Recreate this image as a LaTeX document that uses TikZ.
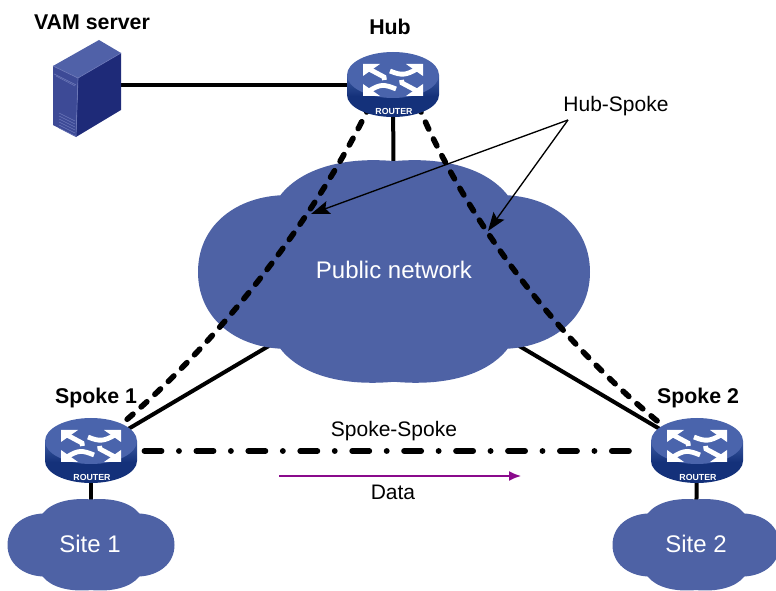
\documentclass[tikz,border=0pt]{standalone}
\usepackage{fontspec}
\setmainfont{Liberation Sans}
\usetikzlibrary{arrows.meta}
\definecolor{cloudblue}{HTML}{4E62A5}
\definecolor{routertop}{HTML}{4A64AC}
\definecolor{routerhi}{HTML}{3C5AA2}
\definecolor{routerlo}{HTML}{14317A}
\definecolor{srvtop}{HTML}{5061A8}
\definecolor{srvright}{HTML}{1E2A78}
\definecolor{srvfront}{HTML}{3D4A96}
\definecolor{srvedge}{HTML}{6C78B8}
\definecolor{datapurple}{HTML}{8A0A8C}
\tikzset{
  x=0.75pt,y=-0.75pt,
  anchorbox/.style={inner sep=0pt,outer sep=0pt},
  routernode/.style={anchorbox,minimum width=69pt,minimum height=48pt,shape=rectangle},
  boldlabel/.style={inner sep=0pt,font=\fontsize{16}{18}\selectfont\bfseries},
  smalllabel/.style={inner sep=0pt,font=\fontsize{15.75}{18}\selectfont},
  cloudlabel/.style={inner sep=0pt,text=white,font=\fontsize{18}{20}\selectfont},
  solidlink/.style={line width=3pt},
  tunnel/.style={line width=4.2pt,line cap=round,dash pattern=on 5.8pt off 8.2pt},
  shortcut/.style={line width=4.4pt,line cap=round,dash pattern=on 12.75pt off 13.1pt on 0pt off 13.1pt},
  pointer/.style={line width=1pt,-{Stealth[length=14pt,width=10pt,inset=2.5pt]}},
  dataflow/.style={line width=1.2pt,datapurple,-{Latex[length=9pt,width=7.5pt]}},
  whiteband/.style={draw=white,line width=3.6pt},
  whitehead/.style={fill=white},
  routericon/.pic={
    \shade[top color=routerhi,bottom color=routerlo,middle color=routerlo]
       (-46,0) -- (-46,20) arc[start angle=180,end angle=0,x radius=46,y radius=22] -- (46,0) -- cycle;
    \fill[routertop] (0,0) ellipse[x radius=46,y radius=23];
    \begin{scope}[shift={(0,5)}]
      \fill[whitehead] (-30,-16) -- (-13,-16) -- (-30,-4) -- cycle;
      \draw[whiteband] (-24,-11) -- (-9,-3) -- (-8.5,0);
      \fill[whitehead] (30,-16) -- (13,-16) -- (30,-4) -- cycle;
      \draw[whiteband] (24,-11) .. controls (13,-5) and (9,-4) .. (-3,-9);
      \fill[whitehead] (-30,16) -- (-13,16) -- (-30,4) -- cycle;
      \draw[whiteband] (-24,11) .. controls (-13,4) and (-9,4) .. (3,9);
      \fill[whitehead] (30,16) -- (13,16) -- (30,4) -- cycle;
      \draw[whiteband] (24,11) -- (9,3) -- (8.5,0);
    \end{scope}
    \node[inner sep=0pt,text=white,font=\fontsize{6.6}{7}\selectfont\bfseries] at (1,36) {ROUTER};
  },
  cloudblob/.pic={
    \fill[cloudblue]
      (0,-.99) .. controls (-.25,-1.03) and (-.47,-.93) .. (-.58,-.685)
      .. controls (-.82,-.66) and (-1,-.4) .. (-1,0)
      .. controls (-1,.4) and (-.82,.66) .. (-.58,.685)
      .. controls (-.47,.93) and (-.25,1.02) .. (0,.98)
      .. controls (.25,1.02) and (.47,.93) .. (.58,.685)
      .. controls (.82,.66) and (1,.4) .. (1,0)
      .. controls (1,-.4) and (.82,-.66) .. (.58,-.685)
      .. controls (.47,-.93) and (.25,-1.03) .. (0,-.99) -- cycle;
  }
}
\begin{document}
\begin{tikzpicture}
\useasboundingbox (0,0) rectangle (776,591);
\clip (0,0) rectangle (776,591);
\node[anchorbox,minimum width=51pt,minimum height=75pt] (server) at (87,85) {};
\node[routernode] (hub) at (393,85) {};
\node[routernode] (spokea) at (91,451) {};
\node[routernode] (spokeb) at (697,451) {};
\node[anchorbox,minimum width=294pt,minimum height=166pt] (net) at (394,272) {};
\node[anchorbox,minimum width=125pt,minimum height=67pt] (sitea) at (91,545) {};
\node[anchorbox,minimum width=125pt,minimum height=67pt] (siteb) at (696,545) {};
\coordinate (apex) at (568,120);
\coordinate (tipa) at (311,214);
\coordinate (tipb) at (488,231);
\coordinate (dataa) at (279,476);
\coordinate (datab) at (521,476);
\coordinate (ssa) at (144.5,451);
\coordinate (ssb) at (645,451);
\draw[solidlink] (server.east) -- (hub.center);
\draw[solidlink] (hub.center) -- (net.center);
\draw[solidlink] (spokea.center) -- (net.center);
\draw[solidlink] (spokeb.center) -- (net.center);
\draw[solidlink] (spokea.center) -- (sitea.center);
\draw[solidlink] (spokeb.center) -- (siteb.center);
\pic[shift={(net.center)},xscale=196,yscale=112] {cloudblob};
\pic[shift={(sitea.center)},xscale=83.5,yscale=46] {cloudblob};
\pic[shift={(siteb.center)},xscale=83.5,yscale=46] {cloudblob};
\draw[tunnel] (hub.center) ++(-23,20) .. controls (320,210) and (222,342) .. (112,432);
\draw[tunnel] (hub.center) ++(25,20) .. controls (462,210) and (552,340) .. (676,436);
\draw[shortcut] (ssa) -- (ssb);
\fill[srvtop] (53,66) -- (99,40) -- (121,53) -- (78,78) -- cycle;
\fill[srvright] (78,78) -- (121,53) -- (121,110) -- (76,137) -- cycle;
\fill[srvfront] (53,66) -- (78,78) -- (76,137) -- (53,125) -- cycle;
\draw[srvedge,line width=0.5pt] (53,66) -- (78,78) -- (121,53);
\draw[srvedge,line width=0.5pt] (78,78) -- (76,137);
\draw[srvedge,line width=0.5pt] (54,74) -- (76,85);
\draw[srvedge,line width=0.4pt] (56,76) -- (75,86);
\foreach \k in {0,3,...,15} {\draw[srvedge,line width=0.4pt] (59,113+\k) -- (75,121+\k);}
\pic at (393,75) {routericon};
\pic at (91,441) {routericon};
\pic at (697,441) {routericon};
\draw[pointer] (apex) -- (tipa);
\draw[pointer] (apex) -- (tipb);
\draw[dataflow] (dataa) -- (datab);
\node[boldlabel] (lserver) at (92,22) {VAM server};
\node[boldlabel] (lhub) at (390,27) {Hub};
\node[boldlabel] (lspa) at (96,398) {Spoke 1};
\node[boldlabel] (lspb) at (698,398) {Spoke 2};
\node[smalllabel] (lhs) at (616,106) {Hub-Spoke};
\node[smalllabel] (lss) at (394,431) {Spoke-Spoke};
\node[smalllabel] (ldata) at (393,492) {Data};
\node[cloudlabel] (lnet) at (394,270) {Public network};
\node[cloudlabel] (lsa) at (90,544) {Site 1};
\node[cloudlabel] (lsb) at (696,544) {Site 2};
\end{tikzpicture}
\end{document}
